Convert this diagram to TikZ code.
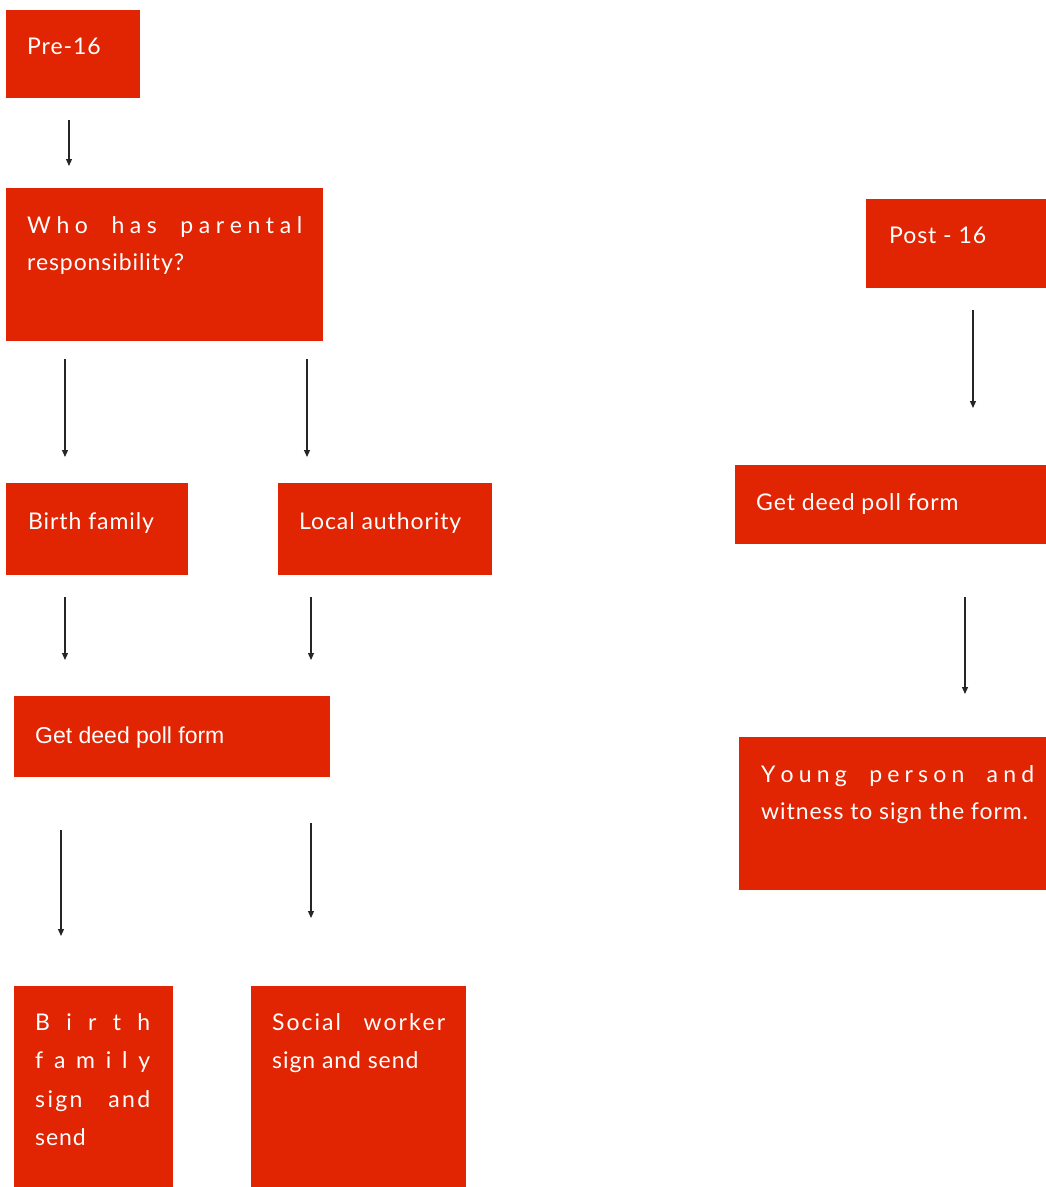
\documentclass[tikz,border=0pt]{standalone}
\usepackage{fontspec}
\setmainfont[LetterSpace=4]{Lato}
\newfontfamily\helv{Liberation Sans}
\usetikzlibrary{arrows.meta}
\definecolor{boxred}{RGB}{225,36,2}
\newcommand\LS{\hspace{0pt plus 1fil}}
\newcommand\WS{\hspace{0pt plus 3fil}\space}
\newcommand\WSbig{\hspace{0pt plus 8fil}\space}
\begin{document}
\begin{tikzpicture}[x=1pt,y=-1pt,
  box/.style={fill=boxred, draw=none, anchor=north west, inner sep=0pt, outer sep=0pt},
  txt/.style={text=white, anchor=base west, inner sep=0pt, font=\fontsize{23}{37.5}\selectfont},
  arr/.style={-{Triangle[length=7pt,width=6pt]}, line width=1.2pt, draw=black!85}]
\useasboundingbox (0,0) rectangle (1046,1187);

% boxes
\node[box, minimum width=134pt, minimum height=88pt]  (pre)    at (6,10)    {};
\node[box, minimum width=317pt, minimum height=153pt] (who)    at (6,188)   {};
\node[box, minimum width=180pt, minimum height=89pt]  (post)   at (866,199) {};
\node[box, minimum width=182pt, minimum height=92pt]  (birth)  at (6,483)   {};
\node[box, minimum width=214pt, minimum height=92pt]  (local)  at (278,483) {};
\node[box, minimum width=316pt, minimum height=81pt]  (deedL)  at (14,696)  {};
\node[box, minimum width=311pt, minimum height=79pt]  (deedR)  at (735,465) {};
\node[box, minimum width=307pt, minimum height=153pt] (young)  at (739,737) {};
\node[box, minimum width=159pt, minimum height=201pt] (bsign)  at (14,986)  {};
\node[box, minimum width=215pt, minimum height=201pt] (social) at (251,986) {};

% texts
\node[txt] (pre-t)   at (27,54)   {Pre-16};
\node[txt] (who-t)   at (27,233)  {\parbox[t]{275pt}{\makebox[275pt][s]{W\LS h\LS o\WS h\LS a\LS s\WS p\LS a\LS r\LS e\LS n\LS t\LS a\LS l}\\responsibility?}};
\node[txt] (post-t)  at (889,243) {Post - 16};
\node[txt] (birth-t) at (28,529)  {Birth family};
\node[txt] (local-t) at (299,529) {Local authority};
\node[txt, font=\fontsize{23}{37.5}\helv] (deedL-t) at (35,743) {Get deed poll form};
\node[txt] (deedR-t) at (756,510) {Get deed poll form};
\node[txt] (young-t) at (761,782) {\parbox[t]{273pt}{\makebox[273pt][s]{Y\LS o\LS u\LS n\LS g\WS p\LS e\LS r\LS s\LS o\LS n\WS a\LS n\LS d}\\witness to sign the form.}};
\node[txt, font=\fontsize{23}{38.5}\selectfont] (bsign-t) at (35,1030) {\parbox[t]{115pt}{\makebox[115pt][s]{B\LS i\LS r\LS t\LS h}\\\makebox[115pt][s]{f\LS a\LS m\LS i\LS l\LS y}\\\makebox[115pt][s]{s\LS i\LS g\LS n\WSbig a\LS n\LS d}\\send}};
\node[txt, font=\fontsize{23}{38}\selectfont] (social-t) at (272,1030) {\parbox[t]{173pt}{\makebox[173pt][s]{S\LS o\LS c\LS i\LS a\LS l\WSbig w\LS o\LS r\LS k\LS e\LS r}\\sign and send}};

% arrow end points
\coordinate (a1s) at (69,120);  \coordinate (a1e) at (69,166);
\coordinate (a2s) at (65,359);  \coordinate (a2e) at (65,457);
\coordinate (a3s) at (307,359); \coordinate (a3e) at (307,457);
\coordinate (a4s) at (65,597);  \coordinate (a4e) at (65,660);
\coordinate (a5s) at (311,597); \coordinate (a5e) at (311,660);
\coordinate (a6s) at (61,830);  \coordinate (a6e) at (61,936);
\coordinate (a7s) at (311,823); \coordinate (a7e) at (311,918);
\coordinate (a8s) at (973,310); \coordinate (a8e) at (973,408);
\coordinate (a9s) at (965,597); \coordinate (a9e) at (965,694);

\draw[arr] (a1s) -- (a1e);
\draw[arr] (a2s) -- (a2e);
\draw[arr] (a3s) -- (a3e);
\draw[arr] (a4s) -- (a4e);
\draw[arr] (a5s) -- (a5e);
\draw[arr] (a6s) -- (a6e);
\draw[arr] (a7s) -- (a7e);
\draw[arr] (a8s) -- (a8e);
\draw[arr] (a9s) -- (a9e);
\end{tikzpicture}
\end{document}
